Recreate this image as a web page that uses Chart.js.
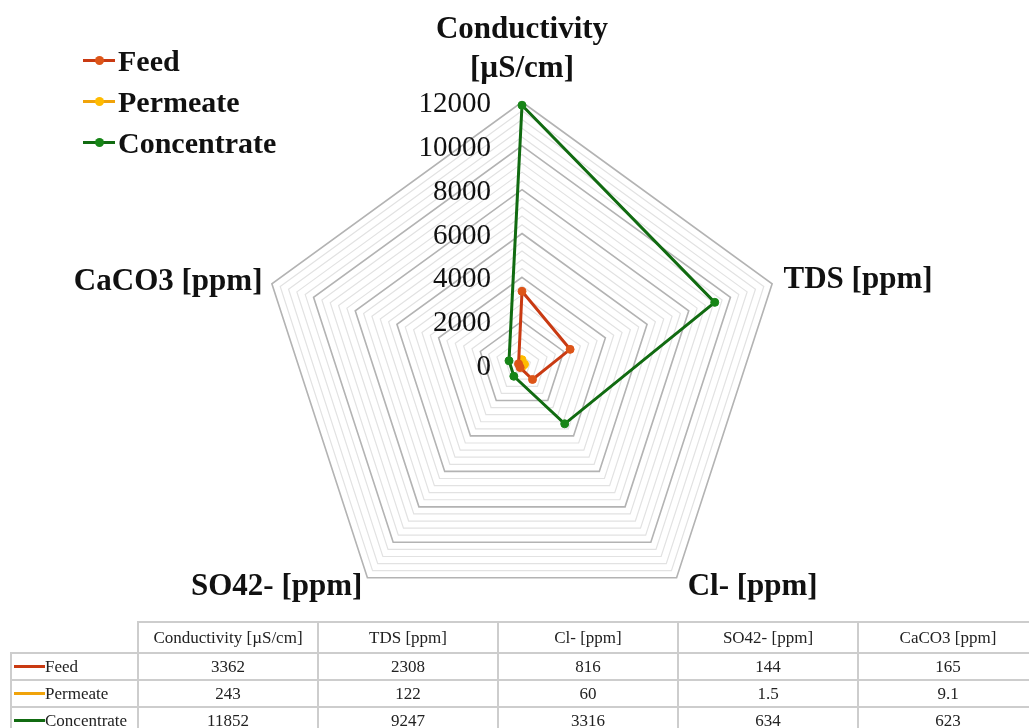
<!DOCTYPE html>
<html>
<head>
<meta charset="utf-8">
<script src="https://cdn.jsdelivr.net/npm/chart.js@4.4.1/dist/chart.umd.min.js"></script>
<style>
  html, body { margin: 0; padding: 0; background: #fff; overflow: hidden; }
  #wrap { position: relative; width: 1029px; height: 728px; overflow: hidden; }
  #chart { position: absolute; left: 0; top: 0; }
  #legend { position: absolute; left: 83px; top: 40px; font: bold 30px "Liberation Serif", serif; color: #111; }
  .lg-item { height: 41px; display: flex; align-items: center; }
  .lg-mark { position: relative; width: 32px; height: 3px; margin-right: 3px; }
  .lg-dot { position: absolute; left: 12px; top: -3px; width: 9px; height: 9px; border-radius: 50%; }
  #tbl { position: absolute; left: 10px; top: 621px; width: 1029px; border-collapse: collapse; table-layout: fixed;
         font: 17px "Liberation Serif", serif; color: #222; }
  #tbl td { border: 2px solid #cdcdcd; padding: 0; text-align: center; white-space: nowrap; }
  #tbl tr.head td { height: 29px; }
  #tbl tr.row td { height: 25px; }
  #tbl td.blank { border-top: none; border-left: none; }
  #tbl td.name { text-align: left; padding-left: 2px; }
  .tl-mark { display: inline-block; width: 31px; height: 3px; vertical-align: middle; margin-top: -2px; }
</style>
</head>
<body>
<div id="wrap">
  <canvas id="chart" width="1029" height="728"></canvas>
  <div id="legend"></div>
  <table id="tbl"></table>
</div>
<script>
// ---- data ----
const categories = ['Conductivity [µS/cm]', 'TDS [ppm]', 'Cl- [ppm]', 'SO42- [ppm]', 'CaCO3 [ppm]'];
const axisLabels = [['Conductivity', '[µS/cm]'], 'TDS [ppm]', 'Cl- [ppm]', 'SO42- [ppm]', 'CaCO3 [ppm]'];
const seriesNames = ['Feed', 'Permeate', 'Concentrate'];
const feed = [3362, 2308, 816, 144, 165];
const permeate = [243, 122, 60, 1.5, 9.1];
const concentrate = [11852, 9247, 3316, 634, 623];
const tickLabels = [0, 2000, 4000, 6000, 8000, 10000, 12000];

const lineColors = ['#c93a12', '#f0a30a', '#116b11'];
const dotColors = ['#dd5518', '#ffbb00', '#168516'];

// ---- legend (top left) ----
const legendEl = document.getElementById('legend');
seriesNames.forEach((name, i) => {
    legendEl.innerHTML += '<div class="lg-item"><span class="lg-mark" style="background:' + lineColors[i] +
        '"><span class="lg-dot" style="background:' + dotColors[i] + '"></span></span>' + name + '</div>';
});

// ---- data table ----
const tbl = document.getElementById('tbl');
let html = '<colgroup><col style="width:127px">';
categories.forEach(() => { html += '<col style="width:180px">'; });
html += '</colgroup><tr class="head"><td class="blank"></td>';
categories.forEach(c => { html += '<td>' + c + '</td>'; });
html += '</tr>';
[feed, permeate, concentrate].forEach((vals, i) => {
    html += '<tr class="row"><td class="name"><span class="tl-mark" style="background:' + lineColors[i] + '"></span>' + seriesNames[i] + '</td>';
    vals.forEach(v => { html += '<td>' + v + '</td>'; });
    html += '</tr>';
});
tbl.innerHTML = html;

// ---- axis text drawn on the canvas ----
const anchors = [
    { align: 'center', dx: 0, dy: -13 },
    { align: 'left', dx: 0, dy: 8 },
    { align: 'left', dx: 4, dy: 8 },
    { align: 'right', dx: 2, dy: 8 },
    { align: 'right', dx: 2, dy: 10 }
];

const axisText = {
    id: 'axisText',
    beforeDatasetsDraw(chart) {
        const s = chart.scales.r;
        const c = chart.ctx;
        c.save();
        c.fillStyle = '#111';
        c.textBaseline = 'alphabetic';

        // value labels left of the vertical axis
        c.font = '29px "Liberation Serif", serif';
        c.textAlign = 'right';
        tickLabels.forEach(v => {
            const p = s.getPointPositionForValue(0, v);
            c.fillText(String(v), p.x - 31, p.y + 10);
        });

        // category names
        c.font = 'bold 31px "Liberation Serif", serif';
        axisLabels.forEach((lab, i) => {
            const a = anchors[i];
            const p = s.getPointPosition(i, s.drawingArea + 12);
            c.textAlign = a.align;
            const lines = Array.isArray(lab) ? lab : [lab];
            lines.forEach((ln, k) => {
                const off = (lines.length - 1 - k) * 39;
                c.fillText(ln, p.x + a.dx, p.y + a.dy - off);
            });
        });
        c.restore();
    }
};

function makeSet(label, data, i) {
    return {
        label: label,
        data: data,
        borderColor: lineColors[i],
        backgroundColor: dotColors[i],
        pointBackgroundColor: dotColors[i],
        pointBorderColor: dotColors[i],
        pointRadius: 4,
        pointBorderWidth: 1,
        borderWidth: 3,
        fill: false,
        tension: 0
    };
}

const chart = new Chart(document.getElementById('chart').getContext('2d'), {
    type: 'radar',
    data: {
        labels: categories,
        datasets: [
            makeSet(seriesNames[0], feed, 0),
            makeSet(seriesNames[1], permeate, 1),
            makeSet(seriesNames[2], concentrate, 2)
        ]
    },
    options: {
        responsive: false,
        animation: false,
        layout: {
            padding: { top: 102, bottom: 100, left: 122, right: 107 }
        },
        plugins: {
            legend: { display: false },
            tooltip: { enabled: false }
        },
        scales: {
            r: {
                min: 0,
                max: 12000,
                angleLines: { display: false },
                grid: {
                    color: (ctx) => (ctx.tick && ctx.tick.value % 2000 === 0) ? '#b3b3b3' : '#e2e2e2',
                    lineWidth: (ctx) => (ctx.tick && ctx.tick.value % 2000 === 0) ? 1.6 : 1.2
                },
                ticks: { display: false, stepSize: 400 },
                pointLabels: { display: false }
            }
        }
    },
    plugins: [axisText]
});
</script>
</body>
</html>
